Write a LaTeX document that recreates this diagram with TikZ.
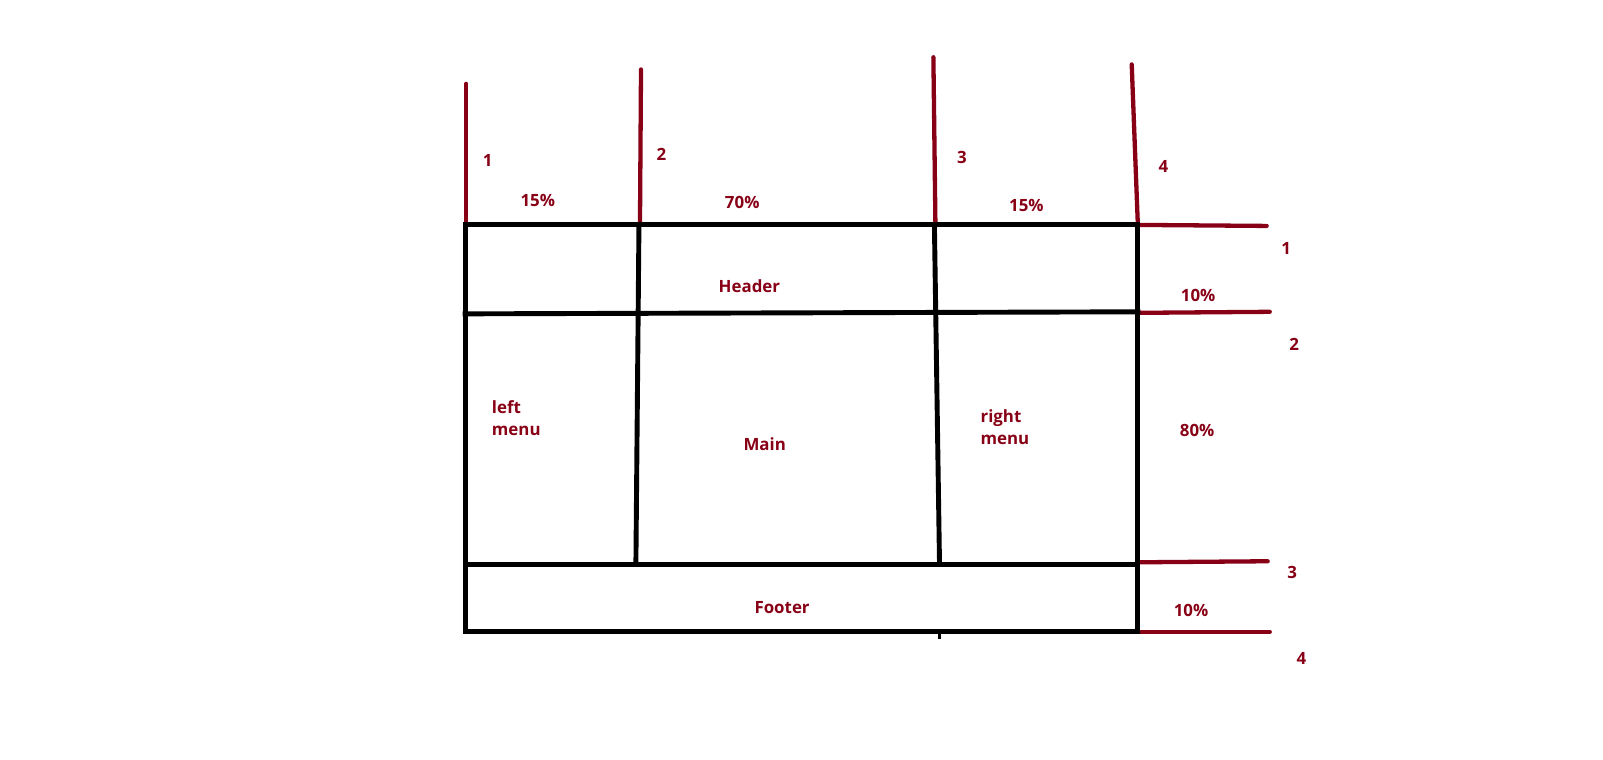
\documentclass[tikz,border=0pt]{standalone}
\usepackage{fontspec}
\setmainfont{Open Sans}
\definecolor{dred}{RGB}{136,0,21}
\begin{document}
\begin{tikzpicture}[x=1pt,y=-1pt,
  box/.style={line width=4.8pt,black,line cap=rect},
  meas/.style={line width=4.2pt,dred,line cap=round},
  lbl/.style={text=dred,font=\fontsize{16.5}{20}\selectfont\bfseries,inner sep=0pt}]
\useasboundingbox (0,0) rectangle (1568,743);
% coordinates of the grid
\coordinate (TL) at (455,220);
\coordinate (TR) at (1113,220);
\coordinate (BL) at (455,618);
\coordinate (BR) at (1113,618);
% red measure lines top
\draw[meas] (456,82) -- (456,220);
\draw[meas] (627,68) -- (626,220);
\draw[meas] (913,56) -- (915,220);
\draw[meas] (1107,63) -- (1113,220);
% red measure lines right
\draw[meas] (TR) -- (1239,221);
\draw[meas] (1115,306) -- (1242,305);
\draw[meas] (1115,550) -- (1240,549);
\draw[meas] (BR) -- (1242,618);
% grid
\draw[box] (TL) rectangle (BR);
\draw[box] (455,307) -- (1113,305);
\draw[box] (455,552) -- (1113,552);
\draw[box] (625,220) -- (622,552);
\draw[box] (914,220) -- (919,552);
\draw[line width=3.5pt] (919,618) -- (919,625);
% top labels
\node[lbl] (n1) at (477,157) {1};
\node[lbl] (n2) at (647,151) {2};
\node[lbl] (n3) at (941,154) {3};
\node[lbl] (n4) at (1138,163) {4};
\node[lbl] (p1) at (526,196) {15\%};
\node[lbl] (p2) at (726,198) {70\%};
\node[lbl] (p3) at (1004,201) {15\%};
% right labels
\node[lbl] (m1) at (1258,243) {1};
\node[lbl] (m2) at (1266,337) {2};
\node[lbl] (m3) at (1264,560) {3};
\node[lbl] (m4) at (1273,644) {4};
\node[lbl] (q1) at (1172,289) {10\%};
\node[lbl] (q2) at (1171,421) {80\%};
\node[lbl] (q3) at (1165,597) {10\%};
% area labels
\node[lbl] (hdr) at (733,280) {Header};
\node[lbl] (main) at (748,434) {Main};
\node[lbl] (ftr) at (765,594) {Footer};
\node[lbl,align=left] (lm) at (505,409) {left\\[2pt]menu};
\node[lbl,align=left] (rm) at (983,418) {right\\[2pt]menu};
\end{tikzpicture}
\end{document}
